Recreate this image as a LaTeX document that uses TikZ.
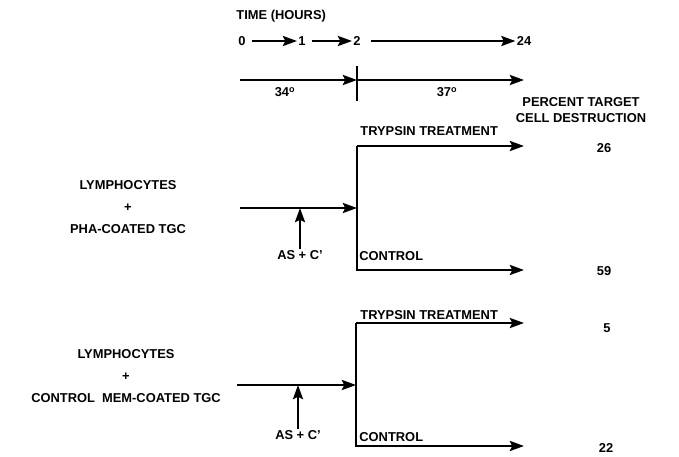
\documentclass[tikz,border=0pt]{standalone}
\usepackage{fontspec}
\setmainfont{Liberation Sans}
\usepackage{tikz}
\usetikzlibrary{positioning,arrows.meta}

\tikzset{
  lbl/.style={font=\fontsize{11}{13}\selectfont\bfseries, inner sep=1pt},
  arr/.style={line width=2.3pt, -{Stealth[length=12pt,width=8.5pt,inset=2pt]}},
  ln/.style={line width=2.3pt}
}

\begin{document}
\begin{tikzpicture}[x=0.03cm, y=-0.03cm]
  \useasboundingbox (0,0) rectangle (679,457);

  % time scale
  \node[lbl, anchor=west] (time) at (235,16) {TIME (HOURS)};
  \node[lbl] (t0) at (242,41) {0};
  \node[lbl] (t1) at (302,41) {1};
  \node[lbl] (t2) at (357,41) {2};
  \node[lbl] (t24) at (524,41) {24};
  \draw[arr, shorten <=4pt] (t0) -- (t1);
  \draw[arr, shorten <=4pt] (t1) -- (t2);
  \draw[arr, shorten <=8pt] (t2) -- (t24);

  % temperature bar
  \coordinate (b0) at (240,80);
  \coordinate (b2) at (357,80);
  \coordinate (b24) at (524,80);
  \coordinate (k1) at (357,66);
  \coordinate (k2) at (357,101);
  \draw[arr] (b0) -- (b2);
  \draw[arr] (b2) -- (b24);
  \draw[ln] (k1) -- (k2);
  \node[lbl] (deg1) at (285,92) {34\textsuperscript{o}};
  \node[lbl] (deg2) at (447,92) {37\textsuperscript{o}};

  \node[lbl, align=center] (pct) at (581,110) {PERCENT TARGET\\CELL DESTRUCTION};

  % first group
  \node[lbl, align=center] (mix1) at (128,207) {LYMPHOCYTES\\[6pt]+\\[6pt]PHA-COATED TGC};
  \coordinate (in1) at (240,208);
  \coordinate (j1) at (357,208);
  \coordinate (m1) at (300,208);
  \node[lbl] (as1) at (300,255) {AS + C'};
  \draw[arr] (in1) -- (j1);
  \draw[arr] (as1) -- (m1);
  \coordinate (c1t) at (357,146);
  \coordinate (c1b) at (357,270);
  \coordinate (e1t) at (524,146);
  \coordinate (e1b) at (524,270);
  \draw[arr] (c1t) -- (e1t);
  \draw[arr] (c1t) -- (c1b) -- (e1b);
  \node[lbl, anchor=south west] (tr1) at (359,137) {TRYPSIN TREATMENT};
  \node[lbl, anchor=south west] (co1) at (358,262) {CONTROL};
  \node[lbl] (r1t) at (604,148) {26};
  \node[lbl] (r1b) at (604,271) {59};

  % second group
  \node[lbl, align=center] (mix2) at (126,376) {LYMPHOCYTES\\[6pt]+\\[6pt]CONTROL\ \ MEM-COATED TGC};
  \coordinate (in2) at (237,385);
  \coordinate (j2) at (356,385);
  \coordinate (m2) at (298,385);
  \node[lbl] (as2) at (298,435) {AS + C'};
  \draw[arr] (in2) -- (j2);
  \draw[arr] (as2) -- (m2);
  \coordinate (c2t) at (356,323);
  \coordinate (c2b) at (356,446);
  \coordinate (e2t) at (524,323);
  \coordinate (e2b) at (524,446);
  \draw[arr] (c2t) -- (e2t);
  \draw[arr] (c2t) -- (c2b) -- (e2b);
  \node[lbl, anchor=south west] (tr2) at (359,321) {TRYPSIN TREATMENT};
  \node[lbl, anchor=south west] (co2) at (358,443) {CONTROL};
  \node[lbl] (r2t) at (607,328) {5};
  \node[lbl, inner sep=0pt] (r2b) at (606,448) {22};
\end{tikzpicture}
\end{document}
